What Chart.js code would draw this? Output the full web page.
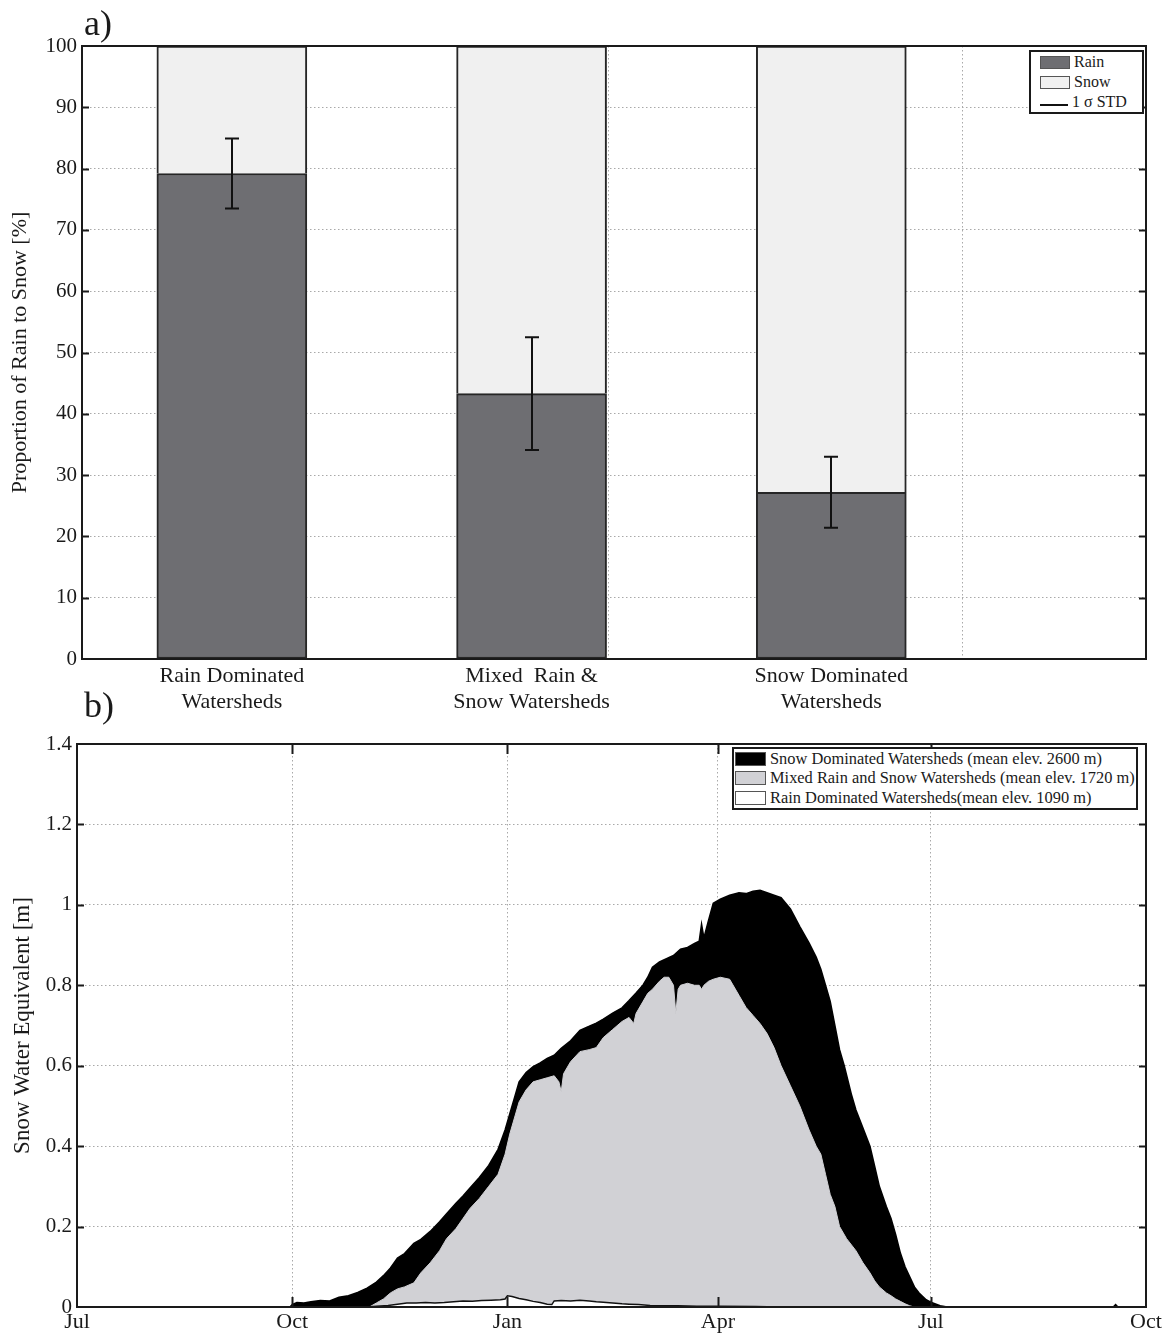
<!DOCTYPE html>
<html>
<head>
<meta charset="utf-8">
<title>Rain / snow partition and snow water equivalent</title>
<script src="https://cdn.jsdelivr.net/npm/chart.js@4.4.1/dist/chart.umd.min.js"></script>
<style>
  html, body { margin: 0; padding: 0; background: #fff; }
  body { width: 1171px; height: 1333px; position: relative; overflow: hidden;
         font-family: 'Liberation Serif', 'Times New Roman', 'DejaVu Serif', serif; color: #1a1a1a; }
  .panel { position: absolute; left: 0; width: 1171px; }
  #wrapA { top: 0; height: 720px; }
  #wrapB { top: 700px; height: 633px; }
  .tag { position: absolute; font-size: 36px; line-height: 36px; }
  .legend { position: absolute; background: #fff; border: 2px solid #1a1a1a; box-sizing: border-box; }
  .legend .row { display: flex; align-items: center; white-space: nowrap; }
  .patch { display: inline-block; box-sizing: border-box; border: 1px solid #555; flex: none; }
  .stdline { display: inline-block; height: 2px; background: #111; flex: none; position: relative; top: 3px; }
  #legA .row { height: 20px; font-size: 16px; }
  #legB .row { height: 19.5px; font-size: 16.4px; }
</style>
</head>
<body>
<div class="panel" id="wrapA"><canvas id="shareChart" width="1171" height="720"></canvas></div>
<div class="panel" id="wrapB"><canvas id="sweChart" width="1171" height="633"></canvas></div>

<div class="tag" style="left:84px;top:5px;">a)</div>
<div class="tag" style="left:84px;top:687px;">b)</div>

<div class="legend" id="legA" style="left:1029px;top:50px;width:115px;height:64px;">
  <div class="row"><span class="patch" style="width:30px;height:13px;margin:0 4px 0 9px;background:#6e6e72;"></span>Rain</div>
  <div class="row"><span class="patch" style="width:30px;height:13px;margin:0 4px 0 9px;background:#f0f0f0;"></span>Snow</div>
  <div class="row"><span class="stdline" style="width:28px;margin:0 4px 0 9px;"></span>1 σ STD</div>
</div>

<div class="legend" id="legB" style="left:732px;top:747px;width:406px;height:62.5px;">
  <div class="row"><span class="patch" style="width:31px;height:14px;margin:0 4px 0 1px;background:#000;"></span>Snow Dominated Watersheds (mean elev. 2600 m)</div>
  <div class="row"><span class="patch" style="width:31px;height:14px;margin:0 4px 0 1px;background:#d1d1d5;"></span>Mixed Rain and Snow Watersheds (mean elev. 1720 m)</div>
  <div class="row"><span class="patch" style="width:31px;height:14px;margin:0 4px 0 1px;background:#fff;"></span>Rain Dominated Watersheds(mean elev. 1090 m)</div>
</div>

<script>
// ---------- panel a: share of precipitation falling as rain vs snow ----------
const barCategories = [
  ['Rain Dominated', 'Watersheds'],
  ['Mixed  Rain &', 'Snow Watersheds'],
  ['Snow Dominated', 'Watersheds']
];
const barPositions = [1, 2, 3];
const rainShare = [79.2, 43.3, 27.2];          // %
const snowShare = [20.8, 56.7, 72.8];          // %
const rainShareStd = [5.7, 9.2, 5.8];          // 1 sigma, %
const shareTicks = [0, 10, 20, 30, 40, 50, 60, 70, 80, 90, 100];
const shareGridX = [2.255, 3.437];

// ---------- panel b: mean daily snow water equivalent, Jul -> Oct ----------
// x = days since 1 July
const monthTickDays = [0, 92, 184, 274, 365, 457];
const monthTickLabels = ['Jul', 'Oct', 'Jan', 'Apr', 'Jul', 'Oct'];
const sweTicks = [0, 0.2, 0.4, 0.6, 0.8, 1.0, 1.2, 1.4];

const snowDays = [0, 91, 92, 94, 97, 100, 104, 108, 112, 116, 120, 124, 128, 131, 134, 137, 140, 144, 147, 151,
  155, 158, 162, 165, 168, 172, 176, 180, 183, 185, 187, 189, 192, 195, 198, 201, 204, 207, 211, 215,
  219, 222, 225, 229, 233, 236, 239, 242, 244, 246, 249, 252, 255, 258, 261, 264, 266, 267, 268, 270,
  272, 275, 279, 283, 286, 289, 292, 295, 298, 301, 305, 309, 313, 316, 318, 320, 322, 324, 326, 328,
  331, 333, 336, 339, 341, 343, 346, 348, 350, 352, 354, 356, 358, 360, 363, 365, 369, 372, 443, 444,
  445, 457];
const snowSwe = [0, 0, 0.006, 0.011, 0.010, 0.013, 0.016, 0.015, 0.024, 0.028, 0.036, 0.047, 0.062, 0.078, 0.097, 0.122, 0.133, 0.158, 0.168, 0.188,
  0.212, 0.232, 0.258, 0.276, 0.296, 0.322, 0.352, 0.392, 0.44, 0.48, 0.52, 0.56, 0.583, 0.598, 0.607, 0.618, 0.626, 0.643, 0.662, 0.688,
  0.698, 0.706, 0.716, 0.731, 0.744, 0.762, 0.781, 0.801, 0.82, 0.845, 0.858, 0.866, 0.874, 0.89, 0.894, 0.904, 0.91, 0.952, 0.918, 0.962,
  1.004, 1.014, 1.024, 1.03, 1.028, 1.034, 1.036, 1.03, 1.024, 1.018, 0.99, 0.946, 0.905, 0.87, 0.84, 0.80, 0.76, 0.70, 0.64, 0.60,
  0.53, 0.49, 0.445, 0.40, 0.35, 0.30, 0.25, 0.22, 0.18, 0.134, 0.10, 0.075, 0.05, 0.035, 0.018, 0.012, 0.003, 0, 0, 0.006,
  0, 0];

const mixedDays = [0, 125, 128, 131, 134, 137, 140, 144, 147, 151, 155, 158, 162, 165, 168, 172, 176, 180, 183, 185,
  187, 189, 192, 195, 198, 201, 204, 206, 207, 208, 211, 215, 219, 222, 225, 229, 233, 236, 238, 239,
  242, 244, 246, 249, 251, 253, 255, 256, 257, 258, 261, 264, 266, 267, 268, 270, 272, 275, 279, 283,
  286, 289, 292, 295, 298, 301, 305, 309, 313, 316, 318, 320, 322, 324, 326, 329, 333, 336, 339, 341,
  343, 346, 348, 350, 352, 354, 356, 358, 457];
const mixedSwe = [0, 0, 0.01, 0.02, 0.035, 0.045, 0.05, 0.06, 0.085, 0.11, 0.14, 0.17, 0.195, 0.22, 0.245, 0.27, 0.30, 0.33, 0.38, 0.43,
  0.47, 0.51, 0.54, 0.56, 0.565, 0.57, 0.575, 0.56, 0.535, 0.58, 0.61, 0.635, 0.64, 0.645, 0.67, 0.69, 0.71, 0.72, 0.705, 0.73,
  0.76, 0.78, 0.79, 0.81, 0.82, 0.82, 0.80, 0.73, 0.79, 0.80, 0.805, 0.80, 0.80, 0.79, 0.80, 0.81, 0.815, 0.82, 0.815, 0.775,
  0.745, 0.725, 0.705, 0.68, 0.645, 0.60, 0.55, 0.50, 0.44, 0.40, 0.38, 0.33, 0.28, 0.25, 0.20, 0.17, 0.14, 0.11, 0.085, 0.065,
  0.05, 0.035, 0.028, 0.02, 0.014, 0.008, 0.003, 0, 0];

const rainDays = [0, 124, 128, 133, 137, 141, 145, 149, 153, 157, 161, 165, 169, 173, 177, 181, 183, 184, 186, 189,
  192, 195, 198, 201, 203, 204, 207, 211, 215, 219, 222, 225, 229, 233, 236, 240, 245, 250, 257, 265,
  275, 290, 300, 457];
const rainSwe = [0, 0, 0.002, 0.004, 0.007, 0.010, 0.010, 0.011, 0.010, 0.011, 0.013, 0.015, 0.014, 0.016, 0.017, 0.018, 0.020, 0.028, 0.026, 0.021,
  0.018, 0.014, 0.011, 0.007, 0.006, 0.015, 0.016, 0.015, 0.017, 0.015, 0.013, 0.012, 0.010, 0.008, 0.007, 0.006, 0.004, 0.003, 0.003, 0.002,
  0.002, 0.001, 0, 0];

// ---------- shared styling ----------
Chart.defaults.font.family = "'Liberation Serif', 'Times New Roman', 'DejaVu Serif', serif";
Chart.defaults.color = '#1a1a1a';
const INK = '#1a1a1a';
const GRID = '#a9a9a9';
const GRID_DASH = [1.5, 2.5];
const CLEAR = 'rgba(0,0,0,0)';

const pts = (xs, ys) => xs.map((x, i) => ({ x, y: ys[i] }));

// Boxed axes with inward tick marks (drawn over the data)
const frame = {
  id: 'frame',
  afterDatasetsDraw(chart, args, opts) {
    const { ctx, chartArea: a, scales } = chart;
    ctx.save();
    ctx.setLineDash([]);
    ctx.strokeStyle = INK;
    ctx.lineWidth = 2;
    ctx.beginPath();
    const ys = scales.y;
    ys.ticks.forEach(t => {
      if (t.value <= ys.min || t.value >= ys.max) return;
      const y = Math.round(ys.getPixelForValue(t.value)) + 0.5;
      ctx.moveTo(a.left, y); ctx.lineTo(a.left + opts.yTick, y);
      ctx.moveTo(a.right, y); ctx.lineTo(a.right - opts.yTick, y);
    });
    if (opts.xTick) {
      const xs = scales.x;
      xs.ticks.forEach(t => {
        if (t.value <= xs.min || t.value >= xs.max) return;
        const x = Math.round(xs.getPixelForValue(t.value)) + 0.5;
        ctx.moveTo(x, a.bottom); ctx.lineTo(x, a.bottom - opts.xTick);
        ctx.moveTo(x, a.top); ctx.lineTo(x, a.top + opts.xTick);
      });
    }
    ctx.stroke();
    ctx.strokeRect(a.left, a.top, a.width, a.height);
    ctx.restore();
  }
};

// 1-sigma error bars on the rain fraction
const errorBars = {
  id: 'errorBars',
  afterDatasetsDraw(chart) {
    const { ctx, scales: { x, y } } = chart;
    ctx.save();
    ctx.strokeStyle = '#111';
    ctx.lineWidth = 2;
    barPositions.forEach((p, i) => {
      const px = Math.round(x.getPixelForValue(p));
      const hi = y.getPixelForValue(rainShare[i] + rainShareStd[i]);
      const lo = y.getPixelForValue(rainShare[i] - rainShareStd[i]);
      ctx.beginPath();
      ctx.moveTo(px, hi); ctx.lineTo(px, lo);
      ctx.moveTo(px - 7, hi); ctx.lineTo(px + 7, hi);
      ctx.moveTo(px - 7, lo); ctx.lineTo(px + 7, lo);
      ctx.stroke();
    });
    ctx.restore();
  }
};

// ---------- panel a ----------
new Chart(document.getElementById('shareChart'), {
  type: 'bar',
  data: {
    datasets: [
      { label: 'Rain', data: pts(barPositions, rainShare), backgroundColor: '#6e6e72',
        borderColor: '#262626', borderWidth: 2, borderSkipped: false, barThickness: 150 },
      { label: 'Snow', data: pts(barPositions, snowShare), backgroundColor: '#f0f0f0',
        borderColor: '#262626', borderWidth: 2, borderSkipped: 'start', barThickness: 150 }
    ]
  },
  options: {
    responsive: false, animation: false, devicePixelRatio: 1,
    layout: { padding: { top: 46, right: 25, left: 0, bottom: 0 } },
    plugins: { legend: { display: false }, tooltip: { enabled: false }, frame: { yTick: 7, xTick: 0 } },
    scales: {
      x: {
        type: 'linear', min: 0.5, max: 4.05, stacked: true, offset: false,
        afterBuildTicks: s => {
          s.ticks = [...barPositions, ...shareGridX].sort((p, q) => p - q).map(v => ({ value: v }));
        },
        afterFit: s => { s.height = 61; },
        ticks: {
          autoSkip: false, maxRotation: 0, padding: 4, color: INK,
          font: { size: 22, lineHeight: 1.2 },
          callback: v => { const i = barPositions.indexOf(v); return i < 0 ? '' : barCategories[i]; }
        },
        grid: { drawTicks: false, lineWidth: 1, offset: false,
                color: c => (c.tick && barPositions.includes(c.tick.value)) ? CLEAR : GRID },
        border: { display: false, dash: GRID_DASH }
      },
      y: {
        stacked: true, min: 0, max: 100,
        afterBuildTicks: s => { s.ticks = shareTicks.map(v => ({ value: v })); },
        afterFit: s => { s.width = 82; },
        ticks: { padding: 5, color: INK, font: { size: 21 } },
        grid: { drawTicks: false, lineWidth: 1,
                color: c => (c.tick && (c.tick.value === 0 || c.tick.value === 100)) ? CLEAR : GRID },
        border: { display: false, dash: GRID_DASH },
        title: { display: true, text: 'Proportion of Rain to Snow [%]', color: INK,
                 font: { size: 22 }, padding: { top: 7, bottom: 0 } }
      }
    }
  },
  plugins: [frame, errorBars]
});

// ---------- panel b ----------
new Chart(document.getElementById('sweChart'), {
  type: 'line',
  data: {
    datasets: [
      { label: 'Rain Dominated Watersheds(mean elev. 1090 m)', data: pts(rainDays, rainSwe),
        borderColor: '#111', borderWidth: 1.5, backgroundColor: '#ffffff', fill: 'origin',
        pointRadius: 0, tension: 0 },
      { label: 'Mixed Rain and Snow Watersheds (mean elev. 1720 m)', data: pts(mixedDays, mixedSwe),
        borderColor: '#d1d1d5', borderWidth: 1, backgroundColor: '#d1d1d5', fill: 'origin',
        pointRadius: 0, tension: 0 },
      { label: 'Snow Dominated Watersheds (mean elev. 2600 m)', data: pts(snowDays, snowSwe),
        borderColor: '#000', borderWidth: 1.5, backgroundColor: '#000', fill: 'origin',
        pointRadius: 0, tension: 0 }
    ]
  },
  options: {
    responsive: false, animation: false, devicePixelRatio: 1,
    layout: { padding: { top: 44, right: 25, left: 0, bottom: 0 } },
    plugins: { legend: { display: false }, tooltip: { enabled: false }, frame: { yTick: 7, xTick: 10 } },
    scales: {
      x: {
        type: 'linear', min: 0, max: 457,
        afterBuildTicks: s => { s.ticks = monthTickDays.map(v => ({ value: v })); },
        afterFit: s => { s.height = 26; },
        ticks: {
          autoSkip: false, maxRotation: 0, padding: 2, color: INK, font: { size: 22 },
          callback: v => { const i = monthTickDays.indexOf(v); return i < 0 ? '' : monthTickLabels[i]; }
        },
        grid: { drawTicks: false, lineWidth: 1,
                color: c => (c.tick && (c.tick.value === 0 || c.tick.value === 457)) ? CLEAR : GRID },
        border: { display: false, dash: GRID_DASH }
      },
      y: {
        min: 0, max: 1.4,
        afterBuildTicks: s => { s.ticks = sweTicks.map(v => ({ value: v })); },
        afterFit: s => { s.width = 77; },
        ticks: { padding: 5, color: INK, font: { size: 21 },
                 callback: v => String(+v.toFixed(1)) },
        grid: { drawTicks: false, lineWidth: 1,
                color: c => (c.tick && (c.tick.value === 0 || c.tick.value === 1.4)) ? CLEAR : GRID },
        border: { display: false, dash: GRID_DASH },
        title: { display: true, text: 'Snow Water Equivalent [m]', color: INK,
                 font: { size: 23 }, padding: { top: 9, bottom: 0 } }
      }
    }
  },
  plugins: [frame]
});
</script>
</body>
</html>
